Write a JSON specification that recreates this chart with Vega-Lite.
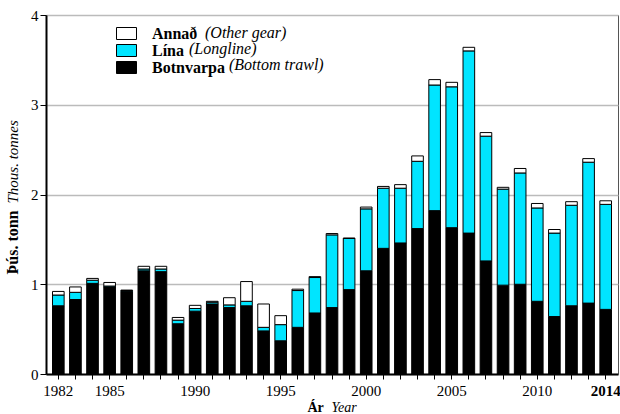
{
  "$schema": "https://vega.github.io/schema/vega-lite/v6.json",
  "width": 572,
  "height": 359,
  "autosize": {"type": "none"},
  "padding": {"left": 46, "top": 15, "right": 2, "bottom": 40},
  "config": {
    "font": "Liberation Serif",
    "view": {"stroke": "#555555", "strokeWidth": 1},
    "axis": {"labelColor": "black", "titleColor": "black", "labelFont": "Liberation Serif", "titleFont": "Liberation Serif"},
    "legend": {"labelFont": "Liberation Serif", "labelColor": "black"}
  },
  "data": {
    "values": [
      {"year": 1982, "Botnvarpa": 0.76, "Lína": 0.12, "Annað": 0.04},
      {"year": 1983, "Botnvarpa": 0.83, "Lína": 0.08, "Annað": 0.06},
      {"year": 1984, "Botnvarpa": 1.01, "Lína": 0.035, "Annað": 0.02},
      {"year": 1985, "Botnvarpa": 0.97, "Lína": 0.01, "Annað": 0.04},
      {"year": 1986, "Botnvarpa": 0.92, "Lína": 0.01, "Annað": 0.005},
      {"year": 1987, "Botnvarpa": 1.15, "Lína": 0.02, "Annað": 0.03},
      {"year": 1988, "Botnvarpa": 1.14, "Lína": 0.03, "Annað": 0.03},
      {"year": 1989, "Botnvarpa": 0.56, "Lína": 0.04, "Annað": 0.03},
      {"year": 1990, "Botnvarpa": 0.70, "Lína": 0.03, "Annað": 0.035},
      {"year": 1991, "Botnvarpa": 0.78, "Lína": 0.02, "Annað": 0.01},
      {"year": 1992, "Botnvarpa": 0.74, "Lína": 0.03, "Annað": 0.08},
      {"year": 1993, "Botnvarpa": 0.76, "Lína": 0.05, "Annað": 0.22},
      {"year": 1994, "Botnvarpa": 0.48, "Lína": 0.04, "Annað": 0.26},
      {"year": 1995, "Botnvarpa": 0.37, "Lína": 0.18, "Annað": 0.10},
      {"year": 1996, "Botnvarpa": 0.52, "Lína": 0.41, "Annað": 0.015},
      {"year": 1997, "Botnvarpa": 0.68, "Lína": 0.395, "Annað": 0.01},
      {"year": 1998, "Botnvarpa": 0.74, "Lína": 0.81, "Annað": 0.015},
      {"year": 1999, "Botnvarpa": 0.94, "Lína": 0.57, "Annað": 0.005},
      {"year": 2000, "Botnvarpa": 1.15, "Lína": 0.69, "Annað": 0.02},
      {"year": 2001, "Botnvarpa": 1.40, "Lína": 0.67, "Annað": 0.02},
      {"year": 2002, "Botnvarpa": 1.46, "Lína": 0.61, "Annað": 0.04},
      {"year": 2003, "Botnvarpa": 1.62, "Lína": 0.75, "Annað": 0.06},
      {"year": 2004, "Botnvarpa": 1.82, "Lína": 1.40, "Annað": 0.06},
      {"year": 2005, "Botnvarpa": 1.63, "Lína": 1.57, "Annað": 0.05},
      {"year": 2006, "Botnvarpa": 1.57, "Lína": 2.03, "Annað": 0.04},
      {"year": 2007, "Botnvarpa": 1.26, "Lína": 1.39, "Annað": 0.04},
      {"year": 2008, "Botnvarpa": 0.99, "Lína": 1.07, "Annað": 0.02},
      {"year": 2009, "Botnvarpa": 1.00, "Lína": 1.24, "Annað": 0.05},
      {"year": 2010, "Botnvarpa": 0.81, "Lína": 1.04, "Annað": 0.05},
      {"year": 2011, "Botnvarpa": 0.64, "Lína": 0.93, "Annað": 0.04},
      {"year": 2012, "Botnvarpa": 0.76, "Lína": 1.12, "Annað": 0.04},
      {"year": 2013, "Botnvarpa": 0.79, "Lína": 1.57, "Annað": 0.04},
      {"year": 2014, "Botnvarpa": 0.72, "Lína": 1.17, "Annað": 0.04}
    ]
  },
  "transform": [
    {"fold": ["Botnvarpa", "Lína", "Annað"], "as": ["gear", "value"]},
    {"calculate": "indexof(['Botnvarpa','Lína','Annað'], datum.gear)", "as": "k"}
  ],
  "layer": [
    {
      "mark": {"type": "bar", "stroke": "black", "strokeWidth": 1},
      "encoding": {
        "x": {
          "field": "year", "type": "ordinal",
          "scale": {"paddingInner": 0.32, "paddingOuter": 0.38},
          "axis": {
            "orient": "bottom",
            "labelAngle": 0,
            "labelExpr": "(datum.value % 5 == 0 || datum.value == 1982 || datum.value == 2014) ? datum.value : ''",
            "labelFont": "Liberation Serif",
            "labelFontSize": 15,
            "labelFontWeight": {"condition": {"test": "datum.value == 2014", "value": "bold"}, "value": "normal"},
            "labelPadding": 4,
            "tickSize": 5, "tickColor": "black",
            "domainColor": "black", "domainWidth": 2,
            "grid": false,
            "title": "Ár", "titleFont": "Liberation Serif", "titleFontSize": 14, "titleFontWeight": "bold",
            "titleAlign": "left", "titleBaseline": "alphabetic",
            "titleX": 261, "titleY": 37
          }
        },
        "y": {
          "field": "value", "type": "quantitative", "stack": "zero",
          "scale": {"domain": [0, 4], "nice": false},
          "axis": {
            "values": [0, 1, 2, 3, 4],
            "labelFont": "Liberation Serif",
            "labelFontSize": 15, "labelPadding": 2,
            "tickSize": 6, "tickColor": "black",
            "domainColor": "black", "domainWidth": 2,
            "grid": true, "gridColor": "#bbbbbb", "gridWidth": 1.5,
            "title": "Þús. tonn", "titleFont": "Liberation Serif", "titleFontSize": 16, "titleFontWeight": "bold",
            "titleAngle": 270, "titleAlign": "left", "titleBaseline": "middle",
            "titleX": -34, "titleY": 259
          }
        },
        "fill": {
          "field": "gear", "type": "nominal",
          "scale": {"domain": ["Annað", "Lína", "Botnvarpa"], "range": ["#ffffff", "#00e5ff", "#000000"]},
          "legend": {
            "orient": "none", "legendX": 72, "legendY": 10, "padding": 0,
            "title": null,
            "symbolType": "M-1.25,-0.75H1.25V0.75H-1.25Z", "symbolSize": 256,
            "symbolStrokeColor": "black", "symbolStrokeWidth": 1,
            "labelFont": "Liberation Serif",
            "labelFontSize": 16, "labelFontWeight": "bold", "labelOffset": 17,
            "rowPadding": -1
          }
        },
        "order": {"field": "k", "type": "quantitative"}
      }
    },
    {
      "mark": {"type": "point", "opacity": 0},
      "encoding": {
        "x": {
          "field": "year", "type": "ordinal",
          "axis": {
            "orient": "bottom",
            "labels": false, "ticks": false, "domain": false, "grid": false,
            "title": "Year", "titleFont": "Liberation Serif", "titleFontSize": 14, "titleFontWeight": "normal", "titleFontStyle": "italic",
            "titleAlign": "left", "titleBaseline": "alphabetic",
            "titleX": 285, "titleY": 37
          }
        },
        "y": {
          "field": "value", "type": "quantitative",
          "scale": {"domain": [0, 4], "nice": false},
          "axis": {
            "orient": "left",
            "labels": false, "ticks": false, "domain": false, "grid": false,
            "title": "Thous. tonnes", "titleFont": "Liberation Serif", "titleFontSize": 15, "titleFontWeight": "normal", "titleFontStyle": "italic",
            "titleAngle": 270, "titleAlign": "left", "titleBaseline": "middle",
            "titleX": -34, "titleY": 188
          }
        },
        "shape": {
          "field": "k", "type": "nominal",
          "scale": {"domain": [2, 1, 0], "range": ["M-1.25,-0.75H1.25V0.75H-1.25Z", "M-1.25,-0.75H1.25V0.75H-1.25Z", "M-1.25,-0.75H1.25V0.75H-1.25Z"]},
          "legend": {
            "orient": "none", "legendX": 108, "legendY": 10, "padding": 0,
            "title": null,
            "symbolSize": 256, "symbolOpacity": 0, "symbolStrokeWidth": 0,
            "labelFont": "Liberation Serif",
            "labelFontSize": 16, "labelFontStyle": "italic", "labelFontWeight": "normal", "labelOffset": 19,
            "rowPadding": -1,
            "labelExpr": "datum.value == 2 ? '\u200b\u00a0\u00a0\u00a0\u00a0(Other gear)' : datum.value == 1 ? '(Longline)' : '\u200b\u00a0\u00a0\u00a0\u00a0\u00a0\u00a0\u00a0\u00a0\u00a0\u00a0(Bottom trawl)'"
          }
        }
      }
    }
  ],
  "resolve": {
    "scale": {"x": "independent", "y": "independent"},
    "axis": {"x": "independent", "y": "independent"}
  }
}
